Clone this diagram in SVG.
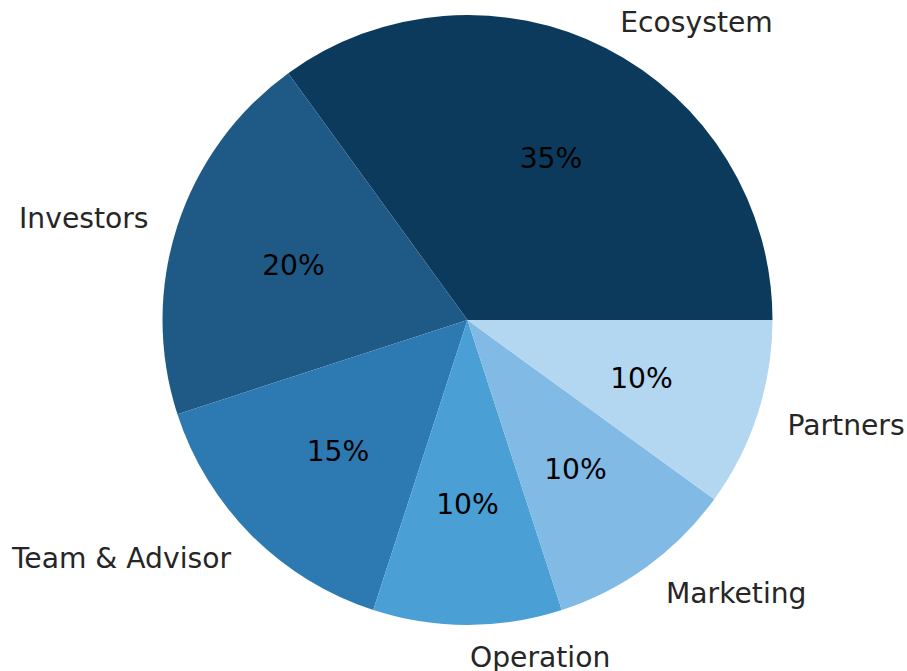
<svg xmlns="http://www.w3.org/2000/svg" width="907" height="671" viewBox="0 0 907 671">
<style>
text{font-family:"DejaVu Sans","Liberation Sans",sans-serif;font-size:28.2px;fill:#262626}
.p{fill:#000000;text-anchor:middle}
.l{text-anchor:start}
.r{text-anchor:end}
</style>
<rect width="907" height="671" fill="#ffffff"/>
<g id="ecosystem">
<path d="M467.5,320 L772.5,320 A305,305 0 0 0 288.23,73.25 Z" fill="#0b3a5c"/>
<text class="l" x="620.3" y="32">Ecosystem</text>
<text class="p" x="551" y="168">35%</text>
</g>
<g id="investors">
<path d="M467.5,320 L288.23,73.25 A305,305 0 0 0 177.43,414.25 Z" fill="#1f5a87"/>
<text class="r" x="148.5" y="227.5">Investors</text>
<text class="p" x="293.5" y="274.5">20%</text>
</g>
<g id="team">
<path d="M467.5,320 L177.43,414.25 A305,305 0 0 0 373.25,610.07 Z" fill="#2d7ab3"/>
<text class="r" x="231" y="568">Team &amp; Advisor</text>
<text class="p" x="338" y="460.5">15%</text>
</g>
<g id="operation">
<path d="M467.5,320 L373.25,610.07 A305,305 0 0 0 561.75,610.07 Z" fill="#4a9fd5"/>
<text class="l" x="470" y="666.5">Operation</text>
<text class="p" x="467.5" y="514">10%</text>
</g>
<g id="marketing">
<path d="M467.5,320 L561.75,610.07 A305,305 0 0 0 714.25,499.27 Z" fill="#80bae5"/>
<text class="l" x="666" y="602.5">Marketing</text>
<text class="p" x="575.5" y="479">10%</text>
</g>
<g id="partners">
<path d="M467.5,320 L714.25,499.27 A305,305 0 0 0 772.5,320 Z" fill="#b3d6f1"/>
<text class="l" x="787.5" y="434.5">Partners</text>
<text class="p" x="641.5" y="388">10%</text>
</g>
<g id="connectors"/>
</svg>
